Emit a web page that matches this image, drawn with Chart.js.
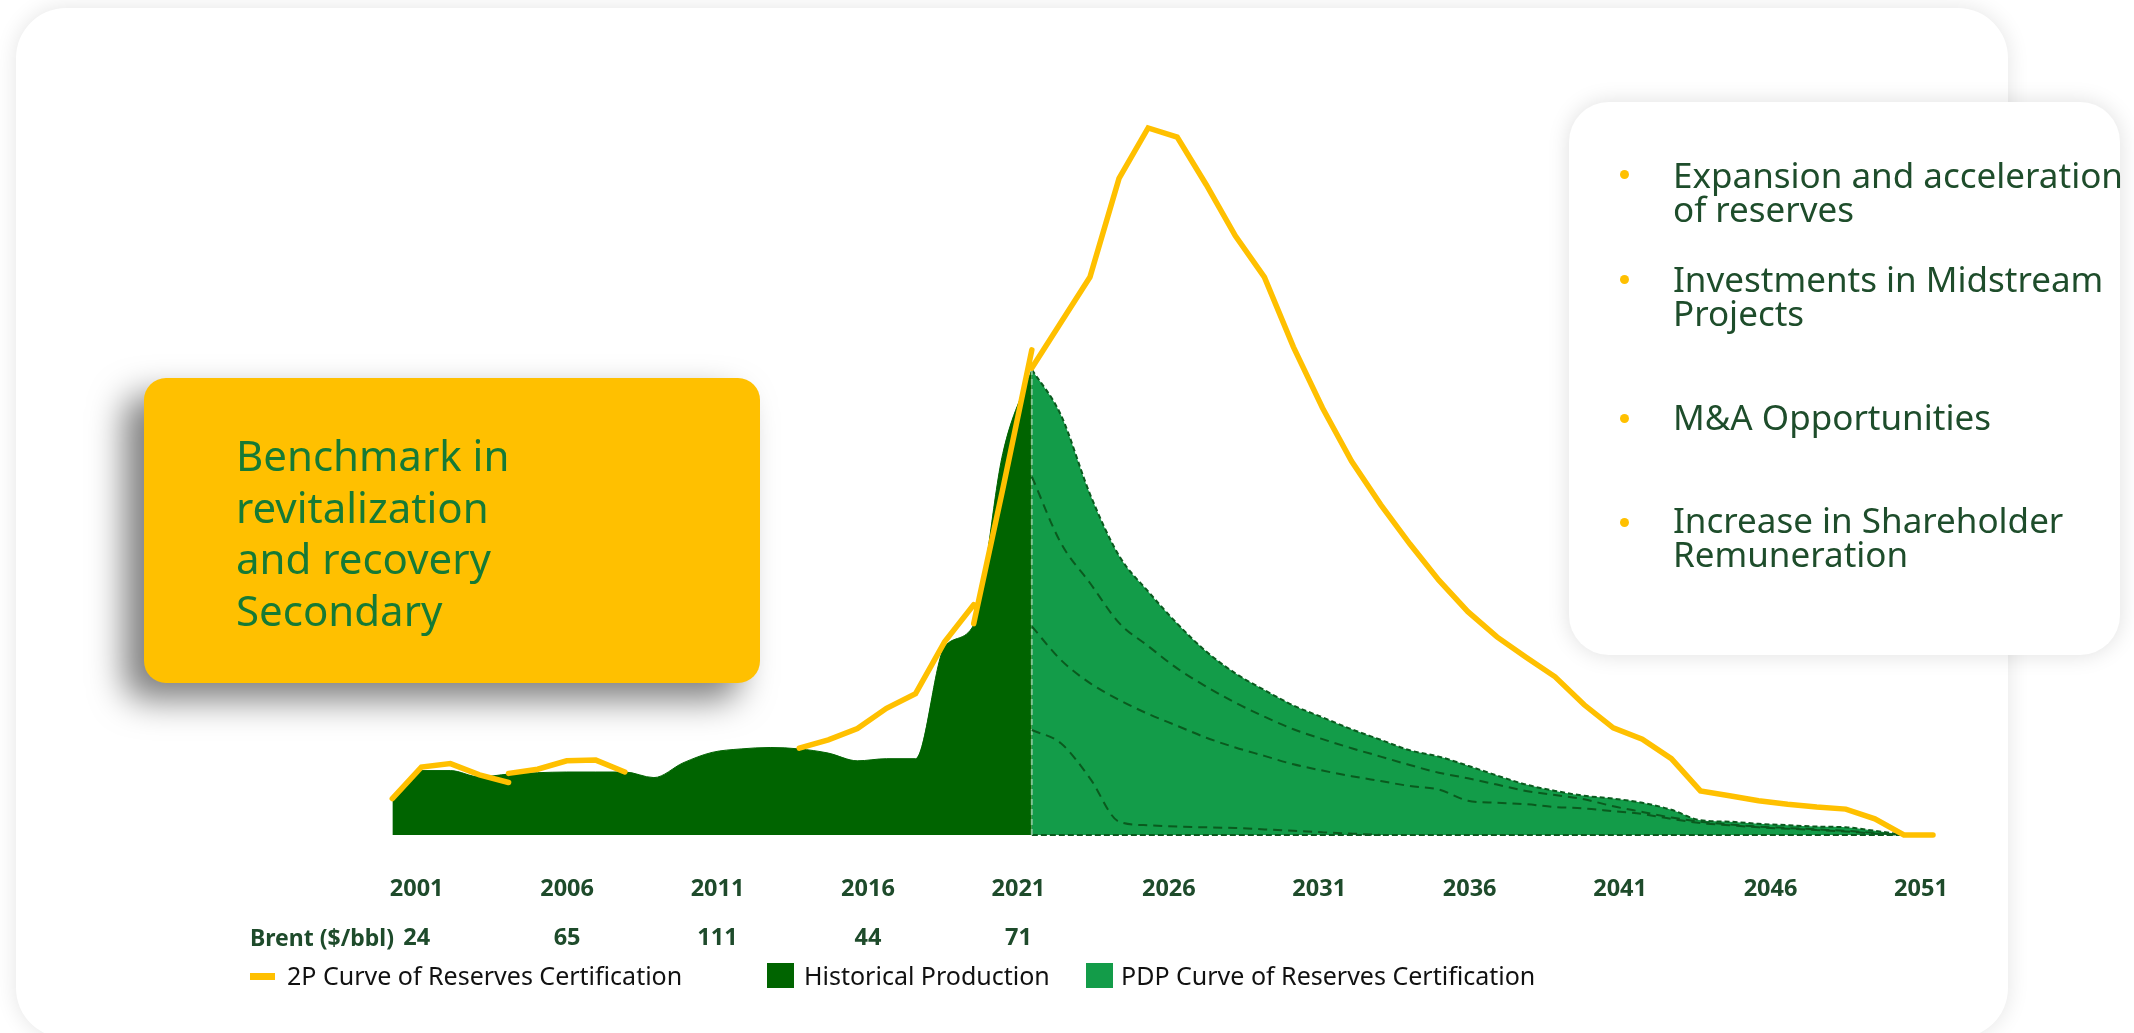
<!DOCTYPE html>
<html>
<head>
<meta charset="utf-8">
<script src="https://cdn.jsdelivr.net/npm/chart.js@4.4.1/dist/chart.umd.min.js"></script>
<style>
  html, body { margin:0; padding:0; width:2134px; height:1033px; overflow:hidden; background:#ffffff; font-family:'Noto Sans', sans-serif; }
  #card { position:absolute; left:16px; top:8px; width:1992px; height:1030px; background:#fff; border-radius:50px; box-shadow:0 0 22px rgba(0,0,0,0.11); }
  #c { position:absolute; left:0; top:0; z-index:1; }
  #ybox { position:absolute; left:144px; top:378px; width:616px; height:305px; background:#FFC000; border-radius:22px; box-shadow:-20px 17px 34px rgba(0,0,0,0.5); z-index:2; }
  #ytext { position:absolute; left:92px; top:51px; font-size:42px; line-height:51.5px; color:#167a35; white-space:nowrap; }
  #info { position:absolute; left:1569px; top:102px; width:551px; height:553px; background:#fff; border-radius:40px; box-shadow:0 0 22px rgba(0,0,0,0.13); z-index:2; }
  .item { position:absolute; left:1673px; font-size:35px; line-height:34px; color:#1e4d2b; white-space:nowrap; z-index:3; }
  .dot { position:absolute; width:9px; height:9px; border-radius:50%; background:#FFC000; z-index:3; }
  .lg { position:absolute; font-size:25px; line-height:34px; color:#111; white-space:nowrap; z-index:3; }
  .sw { position:absolute; z-index:3; }
  #brent { position:absolute; left:250px; top:922px; font-size:23px; line-height:30px; font-weight:bold; color:#1E4B2B; white-space:nowrap; z-index:3; }
</style>
</head>
<body>
<div id="card"></div>
<canvas id="c" width="2134" height="1033"></canvas>

<div id="ybox"><div id="ytext">Benchmark in<br>revitalization<br>and recovery<br>Secondary</div></div>

<div id="info"></div>
<div class="dot" style="left:1620px; top:170px;"></div>
<div class="item" style="top:158px;">Expansion and acceleration<br>of reserves</div>
<div class="dot" style="left:1620px; top:275px;"></div>
<div class="item" style="top:262px;">Investments in Midstream<br>Projects</div>
<div class="dot" style="left:1620px; top:414px;"></div>
<div class="item" style="top:400px;">M&amp;A Opportunities</div>
<div class="dot" style="left:1620px; top:518px;"></div>
<div class="item" style="top:503px;">Increase in Shareholder<br>Remuneration</div>

<div id="brent">Brent ($/bbl)</div>

<div class="sw" style="left:250px; top:973px; width:25px; height:7px; background:#FFC000;"></div>
<div class="lg" style="left:287px; top:958px;">2P Curve of Reserves Certification</div>
<div class="sw" style="left:767px; top:963px; width:27px; height:25px; background:#006400;"></div>
<div class="lg" style="left:804px; top:958px;">Historical Production</div>
<div class="sw" style="left:1086px; top:963px; width:27px; height:25px; background:#139C49;"></div>
<div class="lg" style="left:1121px; top:958px;">PDP Curve of Reserves Certification</div>

<script>
// ---- data (arbitrary production units) ----
const dataYears = [2000,2001,2002,2003,2004,2005,2006,2007,2008,2009,2010,2011,2012,2013,2014,2015,2016,2017,2018,2019,
                   2020,2021,2022,2023,2024,2025,2026,2027,2028,2029,2030,2031,2032,2033,2034,2035,2036,2037,2038,2039,
                   2040,2041,2042,2043,2044,2045,2046,2047,2048,2049,2050,2051,2052,2053];

// Historical production 2000-2022
const historical = [5.0, 9.2, 9.2, 8.3, 8.7, 8.9, 9.0, 9.0, 9.0, 8.2, 10.3, 11.8, 12.3, 12.5, 12.3, 11.7, 10.6, 10.9, 10.9, 26.9, 30.0, 54.5, 66.5];

// PDP curve (total) 2022-2052
const pdpTotal = [66.5, 60.0, 48.7, 39.9, 34.8, 30.2, 26.2, 23.1, 20.7, 18.5, 16.8, 15.1, 13.6, 12.1, 11.2, 9.9, 8.5, 7.2, 6.3, 5.6, 5.2, 4.6, 3.6, 2.1, 1.9, 1.6, 1.4, 1.2, 1.1, 0.6, 0];
// PDP internal (dashed) components 2022-...
const pdpLayerA = [51.2, 41.7, 36.0, 30.3, 27.0, 23.8, 21.2, 18.9, 16.9, 15.1, 13.7, 12.4, 11.2, 10.0, 8.9, 8.1, 7.2, 6.3, 5.7, 5.1, 4.1, 3.3, 2.5, 1.9, 1.5, 1.2, 1.0, 0.8, 0.6, 0.3, 0];
const pdpLayerB = [29.8, 25.0, 21.7, 19.3, 17.3, 15.6, 13.9, 12.5, 11.3, 10.1, 9.2, 8.4, 7.7, 7.0, 6.5, 4.9, 4.6, 4.4, 4.0, 3.8, 3.4, 3.0, 2.3, 1.7, 1.4, 1.1, 0.9, 0.7, 0.5, 0.2, 0];
const pdpLayerC = [15.0, 13.1, 8.1, 1.9, 1.4, 1.2, 1.1, 1.0, 0.8, 0.6, 0.4, 0.2, 0];

// 2P curve, drawn in separate pieces
const twoP_2000 = [5.2, 9.7, 10.2, 8.6, 7.5];                       // 2000-2004
const twoP_2004 = [8.8, 9.4, 10.6, 10.7, 9.0];                      // 2004-2008
const twoP_2014 = [12.4, 13.6, 15.2, 18.1, 20.2, 27.6, 32.9];       // 2014-2020
const twoP_2020 = [30.2, 49.4, 69.3];                               // 2020-2022
const twoP_2022 = [66.7, 73.2, 79.7, 93.8, 101.0, 99.7, 92.9, 85.6, 79.7, 69.7, 61.0, 53.4, 47.2, 41.6, 36.4, 31.9,
                   28.3, 25.4, 22.6, 18.6, 15.3, 13.7, 10.9, 6.3, 5.6, 4.9, 4.4, 4.0, 3.7, 2.3, 0, 0];   // 2022-2053

// axis tick labels and Brent prices
const tickYears = [2001, 2006, 2011, 2016, 2021, 2026, 2031, 2036, 2041, 2046, 2051];
const brentYears = [2001, 2006, 2011, 2016, 2021];
const brentPrices = [24, 65, 111, 44, 71];

// ---- build point lists ----
function pts(startYear, values) {
  const s = dataYears.indexOf(startYear);
  return values.map((v, i) => ({ x: dataYears[s + i], y: v }));
}
function gap(year) { return { x: year, y: null }; }

const twoPPoints = [].concat(
  pts(2000, twoP_2000), [gap(2004)],
  pts(2004, twoP_2004), [gap(2008)],
  pts(2014, twoP_2014), [gap(2020)],
  pts(2020, twoP_2020), [gap(2022)],
  pts(2022, twoP_2022)
);
const pdpEnd = dataYears[dataYears.indexOf(2022) + pdpTotal.length - 1];
const edgePoints = [{ x: 2022, y: 0 }, { x: 2022, y: pdpTotal[0] }];
const basePoints = [{ x: 2022, y: 0 }, { x: pdpEnd, y: 0 }];

const DASH_GREEN = '#0a5a1e';

new Chart(document.getElementById('c'), {
  type: 'line',
  data: {
    datasets: [
      { label: '2P Curve of Reserves Certification', data: twoPPoints, xAxisID: 'x', yAxisID: 'y',
        borderColor: '#FFC000', borderWidth: 5.5, borderCapStyle: 'round', pointRadius: 0, fill: false,
        tension: 0, spanGaps: false, clip: false },
      { label: 'PDP A', data: pts(2022, pdpLayerA), xAxisID: 'x', yAxisID: 'y',
        borderColor: DASH_GREEN, borderWidth: 2, borderDash: [9, 6], pointRadius: 0, fill: false,
        cubicInterpolationMode: 'monotone', clip: false },
      { label: 'PDP B', data: pts(2022, pdpLayerB), xAxisID: 'x', yAxisID: 'y',
        borderColor: DASH_GREEN, borderWidth: 2, borderDash: [9, 6], pointRadius: 0, fill: false,
        cubicInterpolationMode: 'monotone', clip: false },
      { label: 'PDP C', data: pts(2022, pdpLayerC), xAxisID: 'x', yAxisID: 'y',
        borderColor: DASH_GREEN, borderWidth: 2, borderDash: [9, 6], pointRadius: 0, fill: false,
        cubicInterpolationMode: 'monotone', clip: false },
      { label: 'PDP edge', data: edgePoints, xAxisID: 'x', yAxisID: 'y',
        borderColor: 'rgba(150,205,170,0.8)', borderWidth: 2, borderDash: [6, 4], pointRadius: 0, fill: false, clip: false },
      { label: 'PDP base', data: basePoints, xAxisID: 'x', yAxisID: 'y',
        borderColor: DASH_GREEN, borderWidth: 2, borderDash: [6, 3], pointRadius: 0, fill: false, clip: false },
      { label: 'PDP Curve of Reserves Certification', data: pts(2022, pdpTotal), xAxisID: 'x', yAxisID: 'y',
        borderColor: DASH_GREEN, borderWidth: 2, borderDash: [5, 3], backgroundColor: '#139C49',
        pointRadius: 0, fill: 'origin', cubicInterpolationMode: 'monotone', clip: false },
      { label: 'Historical Production', data: pts(2000, historical), xAxisID: 'x', yAxisID: 'y',
        borderColor: '#006400', borderWidth: 1, backgroundColor: '#006400',
        pointRadius: 0, fill: 'origin', cubicInterpolationMode: 'monotone', clip: false }
    ]
  },
  options: {
    responsive: false,
    animation: false,
    events: [],
    layout: { padding: { left: 392.3, right: 201, top: 65, bottom: 0 } },
    plugins: { legend: { display: false }, tooltip: { enabled: false } },
    scales: {
      x: { type: 'linear', min: 2000, max: 2053, display: false },
      y: { type: 'linear', min: 0, max: 110, display: false },
      xt: {
        type: 'linear', position: 'bottom', min: 2000.19, max: 2051.40,
        grid: { display: false, drawTicks: false },
        border: { display: false },
        afterBuildTicks: (s) => { s.ticks = tickYears.map(v => ({ value: v })); },
        afterFit: (s) => { s.height = 198; },
        ticks: {
          autoSkip: false, maxRotation: 0, minRotation: 0, padding: 29.4,
          color: '#1E4B2B',
          font: { family: 'Noto Sans', size: 23.5, weight: 'bold', lineHeight: 2.1 },
          callback: (v) => {
            const i = brentYears.indexOf(v);
            return i >= 0 ? [String(v), String(brentPrices[i])] : String(v);
          }
        }
      }
    }
  }
});
</script>
</body>
</html>
